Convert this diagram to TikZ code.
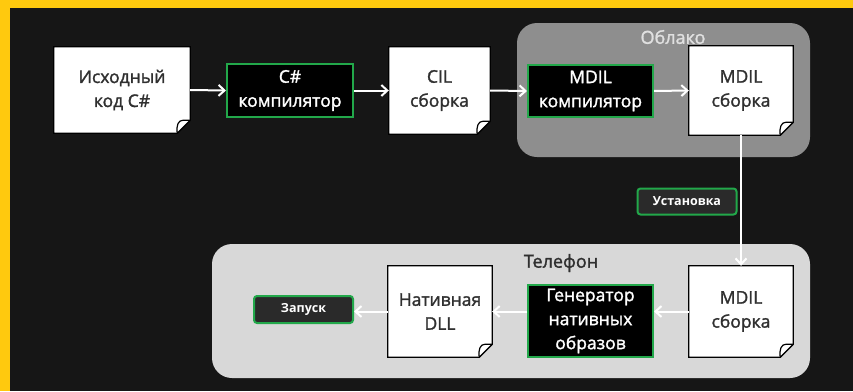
\documentclass[tikz,border=0pt]{standalone}
\usepackage{fontspec}
\setmainfont{Open Sans}
\newfontfamily\semib[FakeBold=1.6]{Open Sans}
\usetikzlibrary{arrows.meta,calc}
\pgfdeclarelayer{bg}
\pgfdeclarelayer{mid}
\pgfsetlayers{bg,mid,main}

\definecolor{yel}{HTML}{FFC90E}
\definecolor{bgdark}{HTML}{161616}
\definecolor{cloudgray}{HTML}{8E8E8E}
\definecolor{phonegray}{HTML}{D8D8D8}
\definecolor{grn}{HTML}{22A84A}
\definecolor{doctext}{HTML}{303030}
\definecolor{lblfill}{HTML}{2A2A2A}

\newcommand\docpaper[1]{%
  \begin{pgfonlayer}{mid}
    \draw[fill=white,draw=black,line width=1.2pt]
      (#1.north west) -- (#1.north east) -- ($(#1.south east)+(0,-13)$)
      -- ($(#1.south east)+(-13,0)$) -- (#1.south west) -- cycle;
    \draw[fill=white,draw=black,line width=1.2pt,line join=round]
      ($(#1.south east)+(-13,0)$)
      .. controls ($(#1.south east)+(-14,-8)$) and ($(#1.south east)+(-12,-13)$) .. ($(#1.south east)+(-7,-13)$)
      -- ($(#1.south east)+(0,-13)$) -- cycle;
  \end{pgfonlayer}}

\tikzset{
  docnode/.style={align=center,text=doctext,font=\semib\fontsize{17.5}{24}\selectfont,inner sep=0pt},
  blackbox/.style={align=center,fill=black,draw=grn,line width=2pt,text=white,
    font=\semib\fontsize{17.5}{24}\selectfont,inner sep=0pt},
  tagbox/.style={align=center,fill=lblfill,draw=grn,line width=2pt,text=white,
    rounded corners=3pt,font=\bfseries\fontsize{12.5}{14}\selectfont,inner sep=0pt},
  groupbox/.style={rounded corners=20pt,inner sep=0pt},
  grouplabel/.style={font=\semib\fontsize{18}{20}\selectfont,inner sep=0pt},
  flow/.style={draw=white,line width=2pt,-{Straight Barb[length=6pt,width=11pt,line width=2pt]}}
}

\begin{document}
\begin{tikzpicture}[x=1pt,y=-1pt]
\useasboundingbox (0,0) rectangle (853,391);
\begin{pgfonlayer}{bg}
  \fill[yel] (0,0) rectangle (853,391);
  \fill[bgdark] (10,8) rectangle (853,391);
  \node[groupbox,fill=cloudgray,minimum width=293pt,minimum height=134pt] (cloud) at (663.5,90) {};
  \node[groupbox,fill=phonegray,minimum width=598pt,minimum height=134pt] (phone) at (511,311) {};
\end{pgfonlayer}

\node[grouplabel,text=white!88!black] (cloudlbl) at (673,37) {Облако};
\node[grouplabel,text=doctext] (phonelbl) at (561,263) {Телефон};

% documents
\node[docnode,minimum width=136pt,minimum height=86pt] (src) at (122,90) {Исходный\\код C\#};
\node[docnode,minimum width=101pt,minimum height=87pt] (cil) at (439.5,90.5) {CIL\\сборка};
\node[docnode,minimum width=104pt,minimum height=89pt] (mdil1) at (741,90.5) {MDIL\\сборка};
\node[docnode,minimum width=104pt,minimum height=91pt] (mdil2) at (741,311.5) {MDIL\\сборка};
\node[docnode,minimum width=104pt,minimum height=91pt] (dll) at (440,311.5) {Нативная\\DLL};
\docpaper{src}
\docpaper{cil}
\docpaper{mdil1}
\docpaper{mdil2}
\docpaper{dll}

% processors
\node[blackbox,minimum width=126pt,minimum height=53pt] (csc) at (290,90.5) {C\#\\компилятор};
\node[blackbox,minimum width=125pt,minimum height=52pt] (mdilc) at (590.5,91) {MDIL\\компилятор};
\node[blackbox,minimum width=125pt,minimum height=72pt] (gen) at (590.5,321) {Генератор\\нативных\\образов};

% tags
\node[tagbox,minimum width=99pt,minimum height=26pt] (inst) at (687,201.5) {Установка};
\node[tagbox,minimum width=99pt,minimum height=27pt] (run) at (303.5,309.5) {Запуск};

% connectors
\draw[flow] (src.east) -- (csc.west);
\draw[flow] (csc.east) -- (cil.west);
\draw[flow] (cil.east) -- (mdilc.west);
\draw[flow] (mdilc.east) -- (mdil1.west);
\draw[flow] (mdil1.south) -- (mdil2.north);
\draw[flow] (mdil2.west) -- (mdil2.west -| gen.east);
\draw[flow] (gen.west |- dll.east) -- (dll.east);
\draw[flow] (dll.west) -- (dll.west -| run.east);
\end{tikzpicture}
\end{document}
